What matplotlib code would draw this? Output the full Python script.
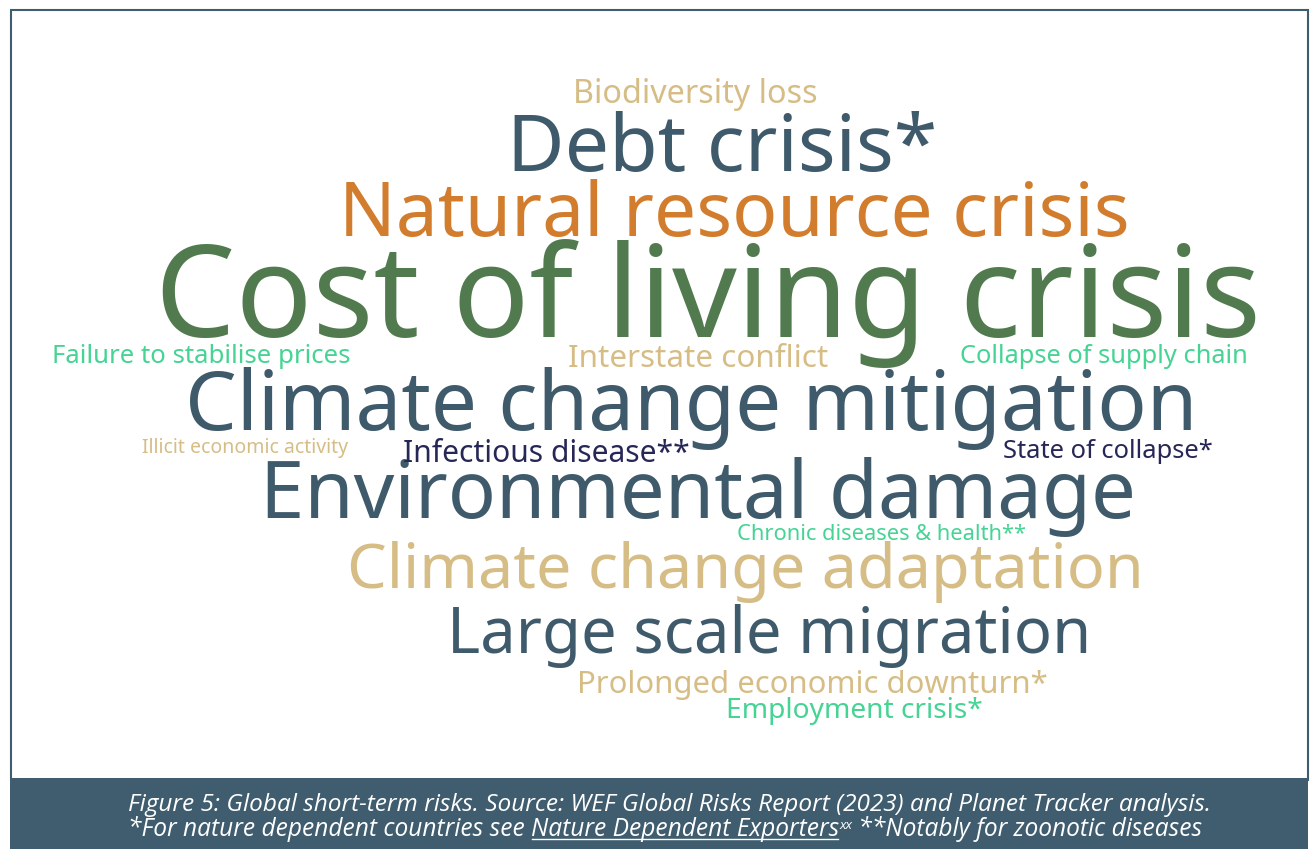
import matplotlib
matplotlib.use("Agg")
import matplotlib.pyplot as plt
from matplotlib.patches import Rectangle

# words of the cloud, biggest first
words = ["Cost of living crisis", "Natural resource crisis", "Climate change mitigation",
         "Environmental damage", "Debt crisis*", "Climate change adaptation",
         "Large scale migration", "Biodiversity loss", "Interstate conflict",
         "Failure to stabilise prices", "Collapse of supply chain", "Infectious disease**",
         "State of collapse*", "Prolonged economic downturn*", "Employment crisis*",
         "Chronic diseases & health**", "Illicit economic activity"]
colours = ["#517b4f", "#d27d2d", "#3f5b6b",
           "#3f5b6b", "#3f5b6b", "#d6bd86",
           "#3f5b6b", "#d6bd86", "#d6bd86",
           "#45d493", "#45d493", "#262757",
           "#262757", "#d6bd86", "#45d493",
           "#45d493", "#d6bd86"]
# layout in pixels: left, right, baseline
left = [155, 339, 185, 260, 507, 347, 447, 573, 568, 52, 960, 403, 1003, 577, 726, 737, 142]
right = [1260, 1127, 1197, 1135, 937, 1142, 1090, 817, 828, 350, 1248, 690, 1213, 1047, 983, 1025, 348]
base = [337, 236, 430, 518, 171, 588, 653, 103, 367, 363, 363, 462, 458, 693, 718, 540, 453]

caption1 = "Figure 5: Global short-term risks. Source: WEF Global Risks Report (2023) and Planet Tracker analysis."
cap2_parts = ["*For nature dependent countries see ", "Nature Dependent Exporters", "xx",
              " **Notably for zoonotic diseases"]

W, H = 1316, 849
fig = plt.figure(figsize=(W / 100, H / 100), dpi=100)
ax = fig.add_axes([0, 0, 1, 1])
ax.set_xlim(0, W)
ax.set_ylim(H, 0)
ax.axis("off")

band = "#3f5d6e"
ax.add_patch(Rectangle((10.5, 9.5), 1297, 770, fill=False, edgecolor=band, lw=1.5))
ax.add_patch(Rectangle((10, 778), 1298, 75, facecolor=band, edgecolor="none"))

fig.canvas.draw()
r = fig.canvas.get_renderer()


def fit(t, width):
    bb = t.get_window_extent(r)
    t.set_fontsize(t.get_fontsize() * width / bb.width)


for w, c, x0, x1, y in zip(words, colours, left, right, base):
    t = ax.text(x0, y, w, color=c, fontsize=30, family="Noto Sans", weight="medium",
                ha="left", va="baseline")
    fit(t, x1 - x0)

# caption
cfont = "Open Sans"
t1 = ax.text(670, 811, caption1, color="white", fontsize=16, family=cfont,
             style="italic", ha="center", va="baseline")
fit(t1, 1212 - 128)


def line2(fs, draw_under=False):
    x = 128
    yb = 836
    made = []
    for i, p in enumerate(cap2_parts):
        if i == 2:
            t = ax.text(x, yb - 7, p, color="white", fontsize=fs * 0.55, family=cfont,
                        style="italic", ha="left", va="baseline")
        else:
            t = ax.text(x, yb, p, color="white", fontsize=fs, family=cfont,
                        style="italic", ha="left", va="baseline")
        bb = t.get_window_extent(r)
        if i == 1 and draw_under:
            ax.plot([x + 1, x + bb.width - 1], [yb + 3, yb + 3], color="white", lw=1)
        made.append(t)
        x += bb.width
    return made, x - 128


fs = t1.get_fontsize()
tmp, total = line2(fs)
for t in tmp:
    t.remove()
line2(fs * (1205 - 128) / total, draw_under=True)

fig.savefig("out.png", dpi=100, facecolor="white")
